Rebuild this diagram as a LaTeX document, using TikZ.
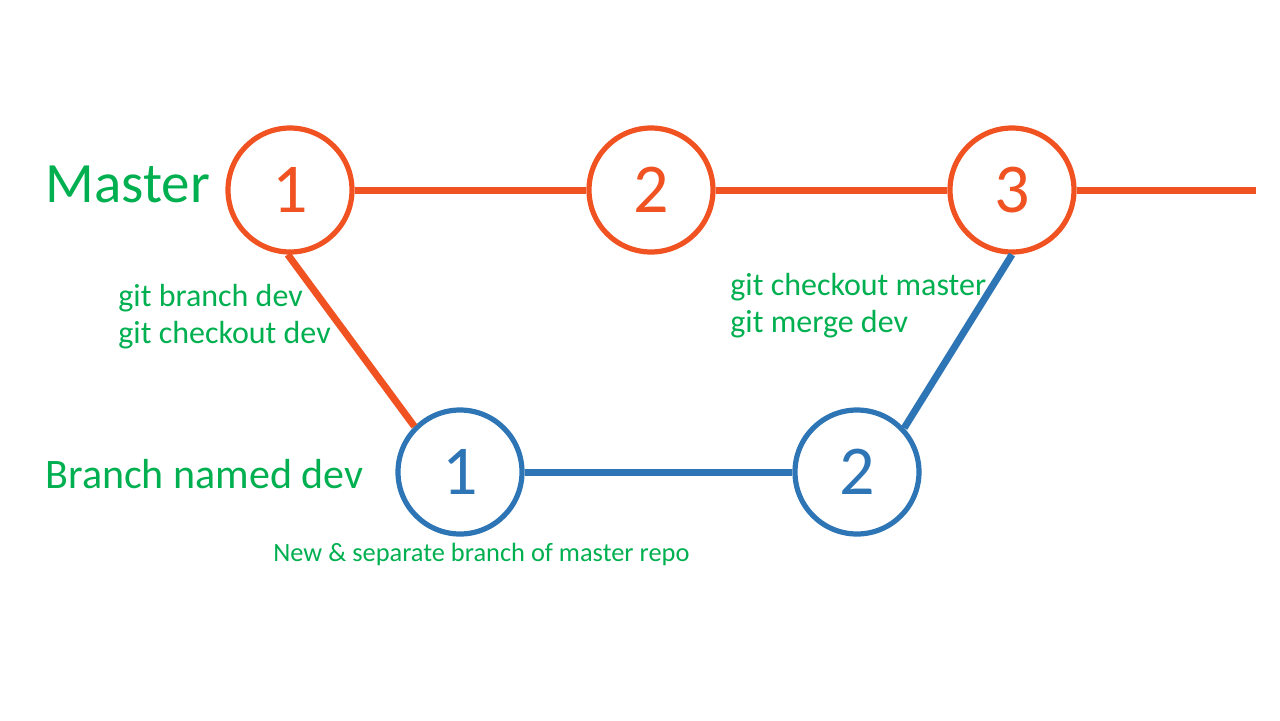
\documentclass[tikz,border=0pt]{standalone}
\usepackage{fontspec}
\setmainfont{Carlito}
\definecolor{gorange}{RGB}{240,82,34}
\definecolor{gblue}{RGB}{46,117,182}
\definecolor{ggreen}{RGB}{0,176,80}
\begin{document}
\begin{tikzpicture}[x=0.5pt,y=-0.5pt,
  commit/.style={circle,line width=2.6pt,minimum size=62pt,inner sep=0pt,font=\fontsize{35}{40}\selectfont},
  mcommit/.style={commit,draw=gorange,text=gorange},
  dcommit/.style={commit,draw=gblue,text=gblue},
  mline/.style={draw=gorange,line width=3.5pt},
  dline/.style={draw=gblue,line width=3.5pt},
  lbl/.style={text=ggreen,anchor=base west,inner sep=0pt},
]
\useasboundingbox (0,0) rectangle (1280,720);
\node[mcommit] (m1) at (290,190) {1};
\node[mcommit] (m2) at (651,190) {2};
\node[mcommit] (m3) at (1012,190) {3};
\node[dcommit] (d1) at (460,472) {1};
\node[dcommit] (d2) at (857,472) {2};
\coordinate (mend) at (1256,190);
\draw[mline] (m1.east) -- (m2.west);
\draw[mline] (m2.east) -- (m3.west);
\draw[mline] (m3.east) -- (mend);
\draw[mline] (m1.268) -- (d1.135);
\draw[dline] (d1.east) -- (d2.west);
\draw[dline] (d2.43) -- (m3.270);
\node[lbl,font=\fontsize{28.5}{32}\selectfont] (tmaster) at (45,202) {Master};
\node[lbl,font=\fontsize{21}{24}\selectfont] (tdev) at (45,488) {Branch named dev};
\node[lbl,font=\fontsize{16}{18.5}\selectfont,align=left] (tbr) at (118,343) {git branch dev\\git checkout dev};
\node[lbl,font=\fontsize{16}{18.5}\selectfont,align=left] (tmg) at (730,332) {git checkout master\\git merge dev};
\node[lbl,font=\fontsize{13.2}{16}\selectfont] (tnew) at (273,561) {New \& separate branch of master repo};
\end{tikzpicture}
\end{document}
